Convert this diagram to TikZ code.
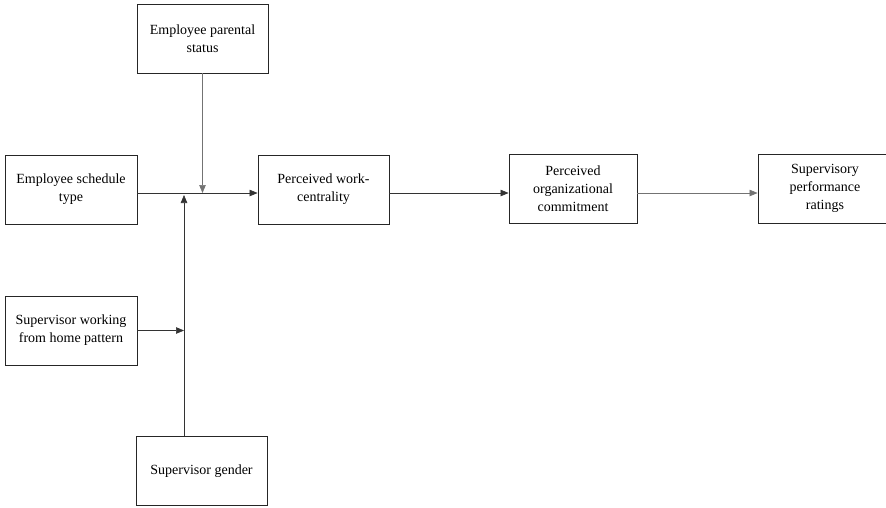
\documentclass[tikz,border=0pt]{standalone}
\usepackage{fontspec}
\setmainfont{Liberation Serif}
\usepackage{tikz}
\usetikzlibrary{arrows.meta, positioning}

\tikzset{
	caja/.style={draw=black!85, line width=0.9pt, minimum width=131pt, minimum height=69pt, align=center, inner sep=2pt, font=\fontsize{14}{18}\selectfont},
	flecha/.style={-{Triangle[length=8pt,width=6.5pt]}, line width=0.6pt, draw=black!80}
}

\begin{document}
\begin{tikzpicture}[x=1pt, y=-1pt]
		\useasboundingbox (0,0) rectangle (886,507);
		\clip (0,0) rectangle (886,507); % la caja de la derecha queda cortada

		\node[caja] (parental) at (202.5,38.5) {Employee parental\\status};
		\node[caja, minimum width=132pt] (horario) at (71,189.5) {Employee schedule\\type};
		\node[caja] (centralidad) at (323.5,189.5) {Perceived work-\\centrality};
		\node[caja, minimum width=128pt] (compromiso) at (573,188.5) {Perceived\\organizational\\commitment};
		\node[caja, minimum width=134pt] (desempeno) at (825,188.5) {Supervisory\\performance\\ratings};
		\node[caja, minimum width=132pt] (casa) at (71,330.5) {Supervisor working\\from home pattern};
		\node[caja] (genero) at (201.5,471) {Supervisor gender};

		\coordinate (cruce) at (202,193);
		\coordinate (sube) at (184,195);

		\draw[flecha] (horario.east |- cruce) -- (centralidad.west |- cruce);
		\draw[flecha] (centralidad.east |- cruce) -- (compromiso.west |- cruce);
		\draw[flecha, draw=black!55] (compromiso.east |- cruce) -- (desempeno.west |- cruce);

		\draw[flecha, draw=black!55] (parental.south) -- (parental.south |- cruce);
		\draw[flecha] (sube |- genero.north) -- (sube);
		\draw[flecha] (casa.east) -- (casa.east -| sube);
	\end{tikzpicture}
\end{document}
